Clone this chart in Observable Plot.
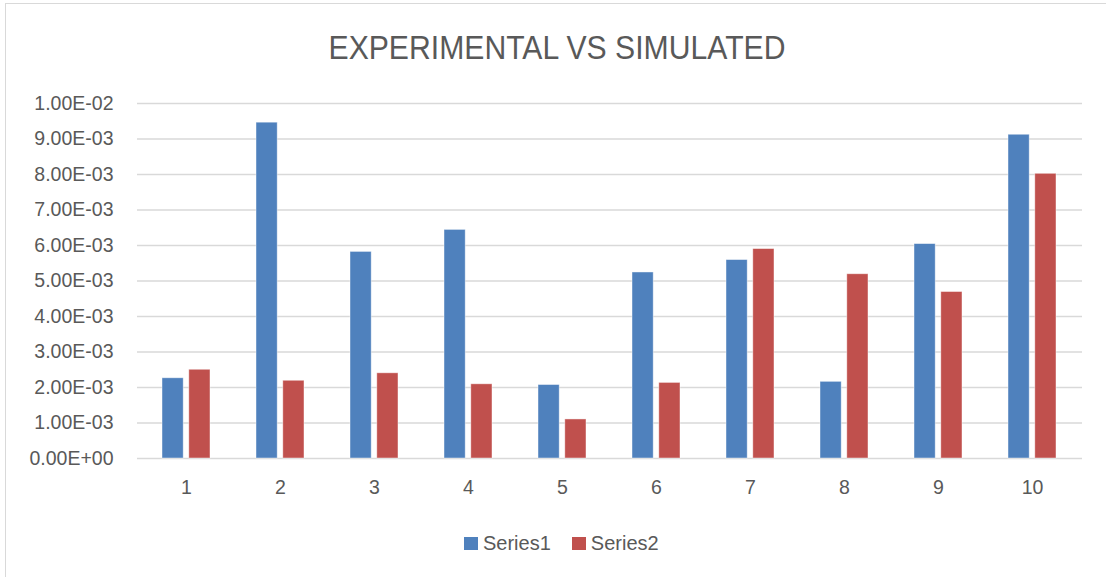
<!DOCTYPE html>
<html>
<head>
<meta charset="utf-8">
<script src="https://cdn.jsdelivr.net/npm/d3@7"></script>
<script src="https://cdn.jsdelivr.net/npm/@observablehq/plot@0.6"></script>
<style>
  html, body { margin: 0; padding: 0; background: #ffffff; }
  #figure { position: relative; width: 1106px; height: 577px; overflow: hidden; background: #ffffff; font-family: "Liberation Sans", Arial, sans-serif; color: #595959; }
  #frame { position: absolute; left: 5px; top: 3px; right: -10px; bottom: -10px; border-top: 1.5px solid #d9d9d9; border-left: 1.5px solid #d9d9d9; }
  #title { position: absolute; left: 0; top: 30px; width: 1114px; text-align: center; font-size: 34px; line-height: 34px; color: #595959; transform: scaleX(0.887); transform-origin: 557px 0; }
  #chart { position: absolute; left: 0; top: 80px; }
  #legend { position: absolute; left: 464px; top: 530px; display: flex; align-items: center; font-size: 20px; line-height: 26px; color: #595959; }
  .item { display: flex; align-items: center; margin-right: 21px; }
  .swatch { width: 14px; height: 13px; margin-right: 5px; }
</style>
</head>
<body>
<div id="figure">
  <div id="frame"></div>
  <div id="title">EXPERIMENTAL VS SIMULATED</div>
  <div id="chart"></div>
  <div id="legend"></div>
</div>
<script>
// Categories on the x axis
const categories = ["1", "2", "3", "4", "5", "6", "7", "8", "9", "10"];

// Series values
const seriesNames = ["Series1", "Series2"];
const series1 = [2.26e-3, 9.46e-3, 5.82e-3, 6.44e-3, 2.07e-3, 5.24e-3, 5.59e-3, 2.16e-3, 6.04e-3, 9.12e-3];
const series2 = [2.50e-3, 2.19e-3, 2.40e-3, 2.09e-3, 1.10e-3, 2.13e-3, 5.90e-3, 5.19e-3, 4.69e-3, 8.02e-3];
const seriesColors = ["#4f81bd", "#c0504d"];

// Y axis tick values
const yTicks = [0, 0.001, 0.002, 0.003, 0.004, 0.005, 0.006, 0.007, 0.008, 0.009, 0.01];

// Scientific notation in the spreadsheet style, e.g. 1.00E-02
function sci(d) {
  const [m, e] = d.toExponential(2).split("e");
  const n = +e;
  return `${m}E${n < 0 ? "-" : "+"}${String(Math.abs(n)).padStart(2, "0")}`;
}

const rows1 = categories.map((c, i) => ({category: c, value: series1[i]}));
const rows2 = categories.map((c, i) => ({category: c, value: series2[i]}));

const barInset = 26.8;

const chart = Plot.plot({
  width: 1106,
  height: 430,
  marginTop: 23,
  marginBottom: 52,
  marginLeft: 137,
  marginRight: 24,
  style: {fontFamily: "'Liberation Sans', Arial, sans-serif", fontSize: "19.5px", color: "#595959", background: "transparent"},
  x: {domain: categories, paddingInner: 0.489, paddingOuter: 0.2445, label: null, tickSize: 0, tickPadding: 22},
  y: {domain: [0, 0.01], ticks: yTicks, tickFormat: sci, label: null, tickSize: 0, tickPadding: 24},
  marks: [
    Plot.ruleY(yTicks, {stroke: "#d9d9d9", strokeWidth: 1.4}),
    Plot.barY(rows1, {x: "category", y: "value", fill: seriesColors[0], insetRight: barInset, stroke: "#ffffff", strokeOpacity: 0.55, strokeWidth: 0.8}),
    Plot.barY(rows2, {x: "category", y: "value", fill: seriesColors[1], insetLeft: barInset, stroke: "#ffffff", strokeOpacity: 0.55, strokeWidth: 0.8})
  ]
});
document.getElementById("chart").appendChild(chart);

// Legend
const legend = document.getElementById("legend");
seriesNames.forEach((name, i) => {
  const item = document.createElement("div");
  item.className = "item";
  const sw = document.createElement("div");
  sw.className = "swatch";
  sw.style.background = seriesColors[i];
  const label = document.createElement("span");
  label.textContent = name;
  item.appendChild(sw);
  item.appendChild(label);
  legend.appendChild(item);
});
</script>
</body>
</html>
